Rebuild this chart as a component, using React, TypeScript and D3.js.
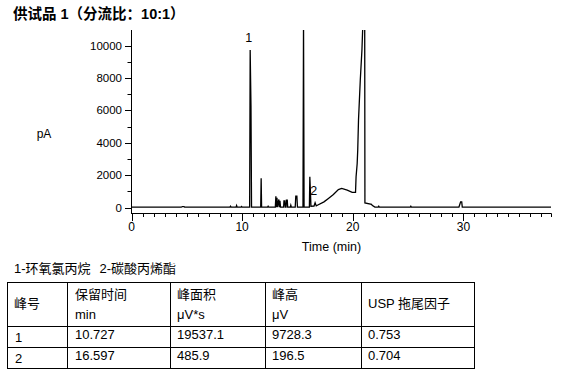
import React from 'react';
import * as d3 from 'd3';

const title = '供试品 1（分流比：10:1）';
const yAxisTitle = 'pA';
const xAxisTitle = 'Time (min)';

// chromatogram trace (time in min, signal in pA)
const times = [
  0, 4.5, 4.6, 4.75, 4.8, 8.9, 8.95, 9.0, 9.45, 9.5, 9.55, 9.9, 9.95, 10.0,
  10.68, 10.727, 10.8, 10.85, 11.68, 11.72, 11.76, 12.3, 12.35, 12.4,
  13.0, 13.05, 13.1, 13.15, 13.2, 13.32, 13.37, 13.42, 13.47,
  13.75, 13.78, 13.85, 13.9, 13.97, 14.0, 14.08, 14.12, 14.35, 14.4, 14.45,
  14.8, 14.85, 14.95, 15.0, 15.5, 15.55, 15.6, 16.08, 16.12, 16.18, 16.22,
  16.5, 16.597, 16.7, 16.8, 17.4, 17.8, 18.25, 18.7, 19.0, 19.5, 19.95, 20.25,
  20.3, 20.4, 20.45, 20.52, 20.68, 20.83, 20.92, 21.05, 21.08, 21.1, 21.7, 21.75,
  22.0, 22.3, 22.35, 22.4, 25.2, 25.25, 25.3, 29.6, 29.75, 29.85, 29.9, 37.92,
];
const signal = [
  20, 20, 60, 60, 20, 20, 80, 20, 20, 120, 20, 20, 60, 20,
  20, 9728, 6300, 20, 20, 1813, 20, 20, 80, 20,
  20, 700, 20, 600, 20, 500, 20, 410, 20,
  20, 410, 410, 20, 20, 450, 450, 20, 20, 140, 20,
  20, 700, 700, 20, 20, 11500, 20, 20, 1900, 870, 80,
  90, 290, 100, 140, 350, 560, 800, 1110, 1175, 1070, 930, 930,
  1900, 2720, 3550, 5400, 7870, 9730, 11500, 11500, 11500, 280, 200, 140,
  30, 30, 80, 30, 30, 80, 30, 30, 350, 350, 30, 30,
];

const peakNames = ['1', '2'];
const peakTimes = [10.727, 16.597];
const peakApex = [9728.3, 290];

const xMajorTicks = [0, 10, 20, 30];
const xMinorTicks = d3.range(0, 38, 1);
const yMajorTicks = [0, 2000, 4000, 6000, 8000, 10000];
const yMinorTicks = d3.range(1000, 11000, 2000);

const legend1 = '1-环氧氯丙烷';
const legend2 = '2-碳酸丙烯酯';

const headTop = ['峰号', '保留时间', '峰面积', '峰高', 'USP 拖尾因子'];
const headUnit = ['', 'min', 'μV*s', 'μV', ''];
const colPeak = ['1', '2'];
const colRT = ['10.727', '16.597'];
const colArea = ['19537.1', '485.9'];
const colHeight = ['9728.3', '196.5'];
const colTailing = ['0.753', '0.704'];

const FONT = '"Liberation Sans", Arial, "Noto Sans CJK SC", sans-serif';

export default function App() {
  const W = 568;
  const H = 378;
  const x = d3.scaleLinear().domain([0, 37.92]).range([131.5, 551]);
  const y = d3.scaleLinear().domain([-370, 10970]).range([213.5, 30]);
  const line = d3
    .line<number>()
    .x((_, i) => x(times[i]))
    .y((d) => y(d));
  const path = line(signal) || '';

  const colX = [7.5, 67.5, 170.5, 265.5, 361.5, 474.5];
  const rowY = [282.5, 326.5, 347.5, 368.5];
  const textX = [14, 75, 177, 272, 368];
  const rows = colPeak.map((p, i) => [p, colRT[i], colArea[i], colHeight[i], colTailing[i]]);
  const rowBase = [340, 361];

  return (
    <svg
      width={W}
      height={H}
      style={{ position: 'absolute', left: 0, top: 0, background: '#fff' }}
      fontFamily={FONT}
    >
      <rect x={0} y={0} width={W} height={H} fill="#fff" />
      <text x={13} y={19} fontSize={14.5} fontWeight="bold" fill="#000">
        {title}
      </text>

      <defs>
        <clipPath id="plot">
          <rect x={131} y={30} width={421} height={184} />
        </clipPath>
      </defs>

      {/* y axis */}
      <line x1={131.5} x2={131.5} y1={30} y2={213.5} stroke="#000" strokeWidth={1} />
      {yMajorTicks.map((t) => (
        <g key={'ym' + t}>
          <line x1={125} x2={131.5} y1={Math.round(y(t)) + 0.5} y2={Math.round(y(t)) + 0.5} stroke="#000" />
          <text x={122} y={Math.round(y(t)) + 4} fontSize={11.5} textAnchor="end" fill="#000">
            {t}
          </text>
        </g>
      ))}
      {yMinorTicks.map((t) => (
        <line key={'yn' + t} x1={127.5} x2={131.5} y1={Math.round(y(t)) + 0.5} y2={Math.round(y(t)) + 0.5} stroke="#000" />
      ))}
      <text x={44} y={137.5} fontSize={12} textAnchor="middle" fill="#000">
        {yAxisTitle}
      </text>

      {/* x axis */}
      <line x1={131} x2={551.5} y1={213.5} y2={213.5} stroke="#000" strokeWidth={1} />
      {xMinorTicks.map((t) => (
        <line key={'xn' + t} x1={Math.round(x(t)) + 0.5} x2={Math.round(x(t)) + 0.5} y1={213.5} y2={217} stroke="#000" />
      ))}
      <line x1={551.5} x2={551.5} y1={213.5} y2={217} stroke="#000" />
      {xMajorTicks.map((t) => (
        <g key={'xm' + t}>
          <line x1={Math.round(x(t)) + 0.5} x2={Math.round(x(t)) + 0.5} y1={213.5} y2={221} stroke="#000" />
          <text x={x(t)} y={231} fontSize={12} textAnchor="middle" fill="#000">
            {t}
          </text>
        </g>
      ))}
      <text x={331.5} y={251} fontSize={12.5} textAnchor="middle" fill="#000">
        {xAxisTitle}
      </text>

      {/* trace */}
      <g clipPath="url(#plot)">
        <path d={path} fill="none" stroke="#000" strokeWidth={1.3} strokeLinejoin="miter" />
      </g>
      {peakNames.map((n, i) => (
        <text key={'pk' + n} x={x(peakTimes[i]) - 1.5} y={y(peakApex[i]) - 8} fontSize={12.5} textAnchor="middle" fill="#000">
          {n}
        </text>
      ))}

      {/* legend */}
      <text x={14} y={273} fontSize={13} fill="#000">{legend1}</text>
      <text x={99.5} y={273} fontSize={13} fill="#000">{legend2}</text>

      {/* table */}
      <g stroke="#000" strokeWidth={1} fill="none">
        {rowY.map((ry) => (
          <line key={'r' + ry} x1={7} x2={475} y1={ry} y2={ry} />
        ))}
        {colX.map((cx) => (
          <line key={'c' + cx} x1={cx} x2={cx} y1={282} y2={369} />
        ))}
      </g>
      <g fontSize={13} fill="#000">
        {headTop.map((h, i) => {
          const single = headUnit[i] === '';
          return (
            <text key={'h' + i} x={textX[i]} y={single ? 307.5 : 298.5}>
              {h}
            </text>
          );
        })}
        {headUnit.map((h, i) =>
          h ? (
            <text key={'u' + i} x={textX[i]} y={318.5}>
              {h}
            </text>
          ) : null
        )}
        {rows.map((r, ri) =>
          r.map((c, ci) => (
            <text key={'d' + ri + ci} x={ci === 0 ? 15 : textX[ci]} y={ci === 0 ? rowBase[ri] + 2 : rowBase[ri] - 1.5}>
              {c}
            </text>
          ))
        )}
      </g>
    </svg>
  );
}
